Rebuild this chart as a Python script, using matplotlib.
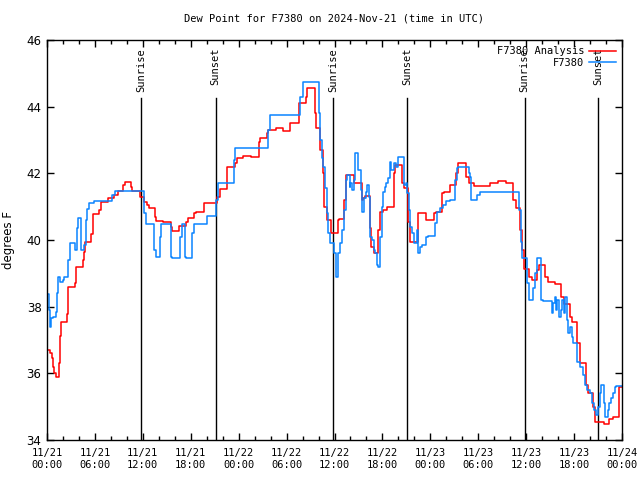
import matplotlib
matplotlib.use("Agg")
import matplotlib.pyplot as plt
from matplotlib.ticker import MultipleLocator

# hours since 2024-11-21 00:00 UTC, step values in degrees F
analysis_hours = [0.0, 0.4, 0.6, 0.8, 0.9, 1.1, 1.5, 1.6, 1.7, 2.5, 2.6, 3.5, 3.6, 4.5, 4.65, 4.76,
                  5.47, 5.7, 6.5, 6.7, 7.6, 8.4, 8.9, 9.5, 9.76, 10.5, 10.7, 11.6, 12.1, 12.5, 12.8,
                  13.5, 13.7, 14.5, 15.5, 15.7, 16.5, 17.4, 17.7, 18.4, 18.7, 19.7, 21.3, 21.6, 22.6,
                  23.5, 23.8, 24.6, 25.6, 26.5, 26.7, 27.5, 27.7, 28.7, 29.5, 30.4, 30.6, 31.5, 32.4,
                  32.6, 33.5, 33.7, 34.2, 34.5, 34.7, 35.1, 35.6, 36.4, 36.6, 37.2, 37.4, 38.4, 39.4,
                  39.6, 39.8, 40.4, 40.6, 41.0, 41.5, 41.7, 42.1, 42.6, 43.4, 43.6, 44.4, 44.7, 45.2,
                  45.5, 46.4, 46.6, 47.5, 48.5, 48.7, 49.5, 49.7, 50.5, 51.2, 51.5, 52.5, 52.8, 53.5,
                  55.5, 56.5, 57.5, 58.4, 58.7, 59.2, 59.5, 59.7, 60.4, 60.7, 61.3, 61.6, 62.4, 62.7,
                  63.6, 64.4, 64.7, 65.5, 65.7, 66.4, 66.7, 67.5, 67.7, 68.4, 68.6, 69.7, 70.4, 70.9,
                  71.6, 72.0]
analysis_vals = [36.7, 36.62, 36.45, 36.2, 36.0, 35.88, 36.3, 37.13, 37.53, 37.78, 38.58, 38.7, 39.18,
                 39.4, 39.65, 39.93, 40.18, 40.78, 40.9, 41.15, 41.27, 41.35, 41.47, 41.65, 41.75, 41.6,
                 41.48, 41.3, 41.15, 41.05, 40.95, 40.7, 40.58, 40.55, 40.4, 40.28, 40.42, 40.55, 40.67,
                 40.82, 40.85, 41.1, 41.3, 41.53, 42.18, 42.3, 42.45, 42.53, 42.48, 42.95, 43.05, 43.2,
                 43.3, 43.35, 43.27, 43.5, 43.52, 44.1, 44.3, 44.55, 43.8, 43.35, 42.7, 42.0, 41.0, 40.6,
                 40.2, 40.6, 40.62, 41.2, 41.95, 41.7, 41.2, 41.25, 41.32, 40.35, 39.8, 39.62, 40.3,
                 40.85, 40.9, 41.0, 42.0, 42.25, 41.7, 41.55, 40.55, 39.95, 40.8, 40.82, 40.6, 40.82,
                 40.85, 41.42, 41.45, 41.65, 42.0, 42.3, 41.9, 41.7, 41.62, 41.7, 41.77, 41.7, 41.2,
                 40.95, 40.3, 39.7, 39.13, 38.9, 38.8, 39.1, 39.25, 38.9, 38.73, 38.68, 38.3, 38.08,
                 37.7, 37.55, 36.9, 36.3, 35.65, 35.4, 35.0, 34.55, 34.48, 34.62, 34.7, 35.6, 35.6]

station_hours = [0.0, 0.25, 0.4, 0.55, 0.8, 1.1, 1.25, 1.4, 1.6, 2.0, 2.1, 2.6, 2.9, 3.5, 3.7, 3.9,
                 4.2, 4.6, 4.9, 5.0, 5.3, 5.9, 8.2, 8.5, 12.1, 12.4, 13.4, 13.6, 14.1, 14.3, 15.5,
                 15.7, 16.7, 16.9, 17.3, 17.4, 18.2, 18.4, 20.0, 21.2, 21.4, 23.4, 23.5, 27.7, 27.9,
                 31.7, 32.0, 34.0, 34.2, 34.4, 34.6, 34.8, 35.0, 35.2, 35.4, 35.9, 36.2, 36.5, 36.7,
                 37.0, 37.2, 37.4, 37.6, 37.9, 38.0, 38.2, 38.4, 38.6, 38.9, 39.3, 39.5, 39.7, 39.9,
                 40.1, 40.3, 40.5, 40.7, 40.9, 41.1, 41.3, 41.5, 41.7, 41.9, 42.1, 42.3, 42.5, 42.7,
                 42.9, 43.1, 43.3, 43.5, 43.7, 43.9, 44.7, 44.9, 45.1, 45.3, 45.5, 45.7, 45.9, 46.3,
                 46.5, 46.7, 46.9, 47.5, 47.7, 48.6, 48.8, 49.2, 49.6, 50.0, 50.5, 51.1, 51.3, 51.5,
                 52.8, 53.0, 53.1, 53.9, 54.2, 59.1, 59.3, 59.5, 60.1, 60.4, 60.9, 61.1, 61.3, 61.9,
                 62.1, 63.2, 63.4, 63.6, 63.7, 63.9, 64.1, 64.3, 64.5, 64.7, 64.9, 65.1, 65.3, 65.5,
                 65.7, 65.9, 66.4, 66.7, 67.1, 67.4, 67.6, 68.0, 68.3, 68.5, 68.8, 69.0, 69.2, 69.4,
                 69.7, 69.9, 70.2, 70.4, 70.6, 70.9, 71.1, 71.3, 72.0]
station_vals = [38.38, 37.9, 37.4, 37.65, 37.7, 37.85, 38.4, 38.9, 38.75, 38.8, 38.9, 39.4, 39.9, 39.7,
                40.35, 40.65, 39.7, 39.85, 40.6, 40.92, 41.1, 41.18, 41.35, 41.47, 40.8, 40.48, 39.7,
                39.48, 40.1, 40.48, 39.5, 39.45, 40.1, 40.48, 39.5, 39.45, 40.2, 40.48, 40.73, 41.2,
                41.72, 42.4, 42.75, 43.3, 43.75, 44.3, 44.73, 43.8, 43.0, 42.45, 42.2, 41.55, 40.8,
                40.2, 39.9, 39.6, 38.9, 39.6, 39.9, 40.3, 40.9, 41.8, 41.95, 41.6, 41.7, 41.5, 41.8,
                42.6, 42.1, 41.5, 40.85, 41.25, 41.45, 41.65, 41.3, 40.1, 40.0, 39.7, 39.6, 39.25,
                39.2, 40.1, 41.0, 41.45, 41.6, 41.7, 41.85, 42.35, 42.1, 42.1, 42.3, 42.2, 42.5, 41.65,
                41.7, 41.4, 40.9, 40.4, 40.2, 39.9, 40.3, 39.6, 39.8, 39.85, 40.1, 40.12, 40.5, 40.85,
                40.95, 41.05, 41.18, 41.2, 41.8, 42.15, 42.2, 42.0, 41.9, 41.2, 41.35, 41.45, 40.9,
                39.95, 39.45, 38.7, 38.2, 38.55, 39.0, 39.45, 38.2, 38.18, 37.8, 38.1, 38.3, 37.9,
                38.2, 37.7, 37.9, 38.2, 37.8, 38.3, 37.6, 37.2, 37.4, 37.1, 36.9, 36.35, 36.2, 35.95,
                35.65, 35.5, 35.4, 35.1, 34.9, 34.75, 35.0, 35.4, 35.65, 35.1, 34.7, 34.9, 35.1, 35.25,
                35.4, 35.6, 35.62, 35.62]

event_hours = [11.77, 21.1, 35.8, 45.1, 59.8, 69.05]
event_labels = ['Sunrise', 'Sunset', 'Sunrise', 'Sunset', 'Sunrise', 'Sunset']

tick_hours = list(range(0, 73, 6))
tick_labels = ['11/21\n00:00', '11/21\n06:00', '11/21\n12:00', '11/21\n18:00',
               '11/22\n00:00', '11/22\n06:00', '11/22\n12:00', '11/22\n18:00',
               '11/23\n00:00', '11/23\n06:00', '11/23\n12:00', '11/23\n18:00',
               '11/24\n00:00']

mono = 'DejaVu Sans Mono'

fig = plt.figure(figsize=(6.4, 4.8), dpi=100)
ax = fig.add_axes([47 / 640, 40 / 480, 575 / 640, 400 / 480])

for h, lab in zip(event_hours, event_labels):
    ax.plot([h, h], [0, 0.855], color='black', lw=1.0, transform=ax.get_xaxis_transform())
    ax.text(h, 0.98, lab, rotation=90, ha='center', va='top', fontsize=7.5,
            family=mono, transform=ax.get_xaxis_transform())

ax.plot(analysis_hours, analysis_vals, drawstyle='steps-post', color='#ff0000', lw=1.1,
        label='F7380 Analysis')
ax.plot(station_hours, station_vals, drawstyle='steps-post', color='#0a84ff', lw=1.1,
        label='F7380')

ax.set_xlim(0, 72)
ax.set_ylim(34, 46)
ax.set_xticks(tick_hours)
ax.set_xticklabels(tick_labels, family=mono, fontsize=7.5)
ax.xaxis.set_minor_locator(MultipleLocator(2))
ax.yaxis.set_major_locator(MultipleLocator(2))
for lab in ax.get_yticklabels():
    lab.set_fontsize(8.5)
ax.tick_params(which='both', direction='in', top=True, right=True, width=1)
ax.tick_params(which='major', length=5, pad=4)
ax.tick_params(axis='x', which='major', pad=6)
ax.tick_params(which='minor', length=3)
for s in ax.spines.values():
    s.set_linewidth(1)

ax.set_ylabel('degrees F', fontsize=8.5, labelpad=8)
ax.set_title('Dew Point for F7380 on 2024-Nov-21 (time in UTC)', family=mono, fontsize=7.5, pad=13)

leg = ax.legend(loc='upper right', frameon=False, markerfirst=False, handlelength=2.6,
                borderaxespad=0.2, labelspacing=0.15, handletextpad=0.4,
                prop={'family': mono, 'size': 7.5})

fig.savefig('out.png', dpi=100)
